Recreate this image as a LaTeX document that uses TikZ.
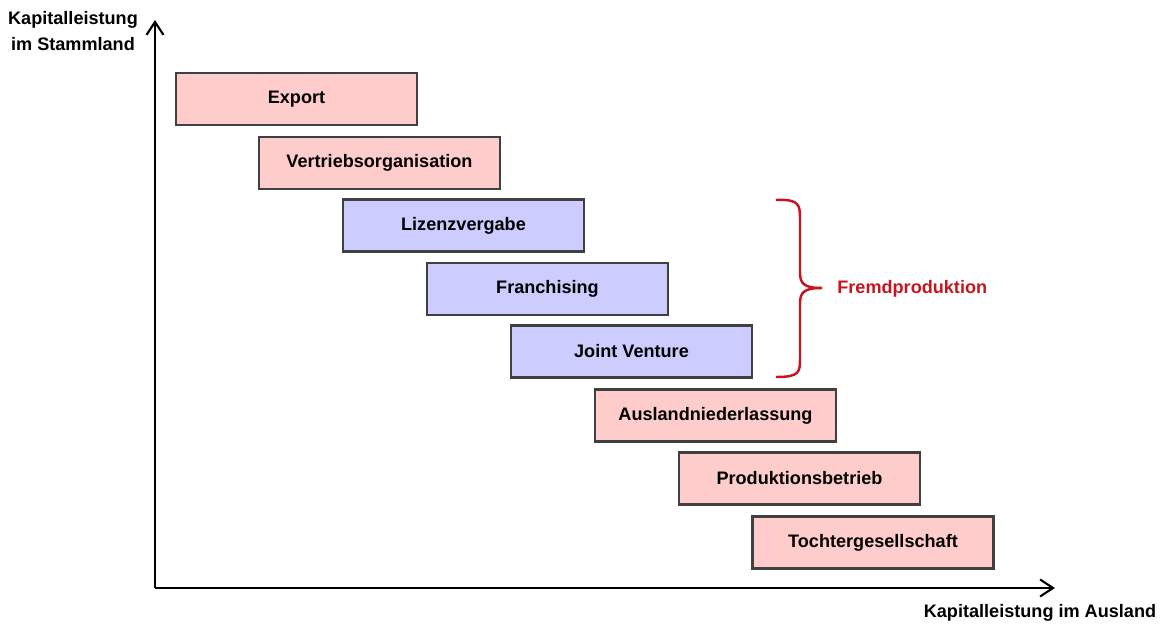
\documentclass[tikz,border=0pt]{standalone}
\usepackage{fontspec}
\setmainfont{Liberation Sans}
\usetikzlibrary{arrows.meta}
\definecolor{boxpink}{RGB}{255,204,204}
\definecolor{boxblue}{RGB}{204,204,255}
\definecolor{bracered}{RGB}{200,20,30}
\tikzset{
  stufe/.style={rectangle, draw=black!75, line width=1.3pt, minimum width=4.82cm, minimum height=1.04cm, font=\bfseries\fontsize{10.3}{12}\selectfont},
  achse/.style={line width=1.2pt, -{Straight Barb[length=2.6mm,width=3.4mm]}}
}
\begin{document}
\begin{tikzpicture}[x=0.02cm, y=-0.02cm]
    \useasboundingbox (0,0) rectangle (1161,628);

    % Achsen
    \coordinate (O) at (155,588);
    \coordinate (ytop) at (155,20);
    \coordinate (xend) at (1055,588);
    \draw[achse] (O) -- (ytop);
    \draw[achse] (O) -- (xend);
    \node[align=center, font=\bfseries\fontsize{10.3}{15.3}\selectfont] (ylabel) at (73,31) {Kapitalleistung\\im Stammland};
    \node[font=\bfseries\fontsize{10.3}{12}\selectfont] (xlabel) at (1040,613) {Kapitalleistung im Ausland};

    % Stufen der Internationalisierung
    \node[stufe, fill=boxpink] (export) at (296.5,99) {Export};
    \node[stufe, fill=boxpink] (vertrieb) at (379.5,163) {Vertriebsorganisation};
    \node[stufe, fill=boxblue] (lizenz) at (463.5,225.5) {Lizenzvergabe};
    \node[stufe, fill=boxblue] (franchising) at (547.5,289) {Franchising};
    \node[stufe, fill=boxblue] (joint) at (631.5,351.5) {Joint Venture};
    \node[stufe, fill=boxpink] (ausland) at (715.5,415.5) {Auslandniederlassung};
    \node[stufe, fill=boxpink] (produktion) at (799.5,478.5) {Produktionsbetrieb};
    \node[stufe, fill=boxpink] (tochter) at (873,542.5) {Tochtergesellschaft};

    % Klammer
    \coordinate (btop) at (776,200);
    \coordinate (btip) at (822,288);
    \coordinate (bbot) at (776,377);
    \draw[bracered, line width=1.4pt] (btop) .. controls (800,199) and (800,205) .. (800,220) -- (800,272)
        .. controls (800,284) and (804,288) .. (btip);
    \draw[bracered, line width=1.4pt] (btip) .. controls (804,288) and (800,292) .. (800,304) -- (800,358)
        .. controls (800,372) and (800,377) .. (bbot);
    \node[anchor=west, text=bracered, font=\bfseries\fontsize{10.3}{12}\selectfont, inner sep=0pt] (fremd) at (837,289) {Fremdproduktion};
\end{tikzpicture}
\end{document}
